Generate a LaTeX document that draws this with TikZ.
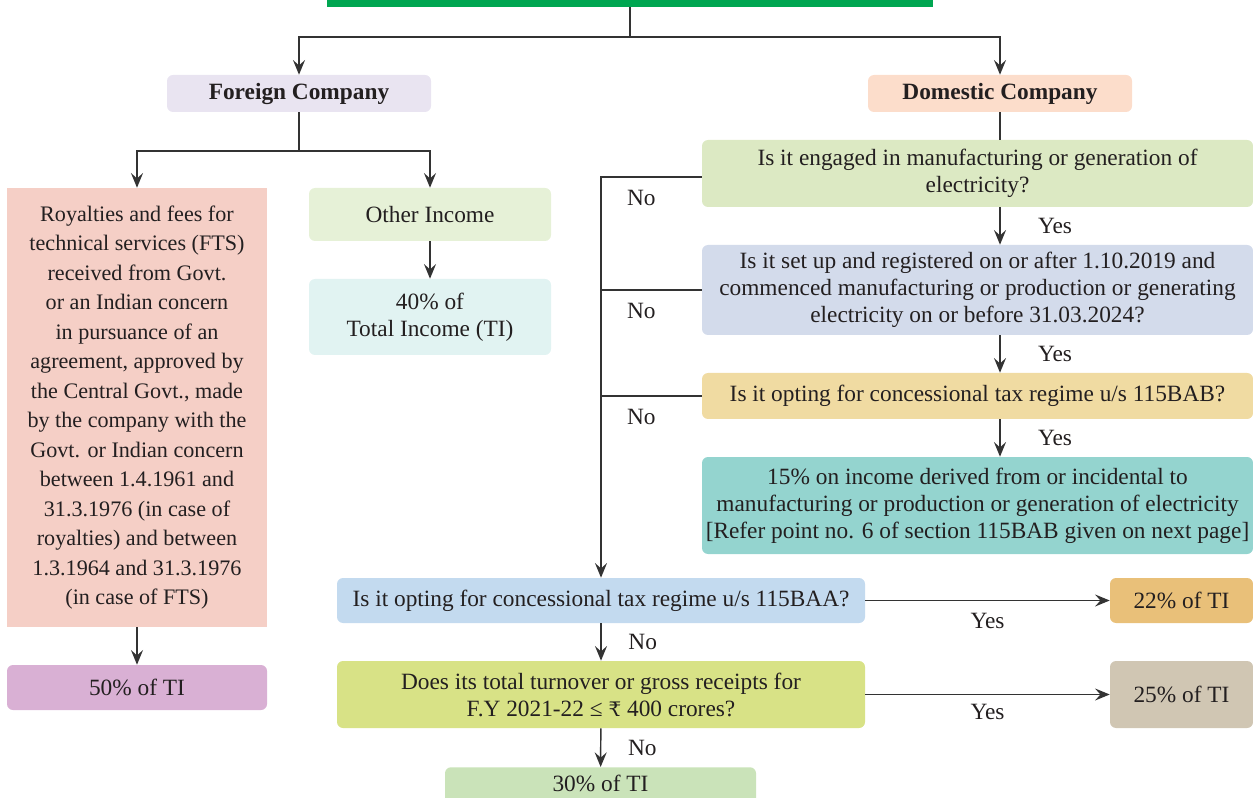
\documentclass[tikz,border=0pt]{standalone}
\usepackage{fontspec}
\setmainfont{Liberation Serif}
\newfontfamily\rupeefont{DejaVu Serif}
\usepackage{tikz}
\usetikzlibrary{positioning, calc, arrows.meta}
\definecolor{Title_green}{HTML}{00A651}
\definecolor{Foreign_lilac}{HTML}{E9E4F1}
\definecolor{Domestic_peach}{HTML}{FCDDCB}
\definecolor{Royalty_pink}{HTML}{F5CFC6}
\definecolor{Fifty_mauve}{HTML}{D9B0D4}
\definecolor{Other_green}{HTML}{E6F1D7}
\definecolor{Forty_cyan}{HTML}{E1F3F2}
\definecolor{Engaged_green}{HTML}{DCE9C3}
\definecolor{Setup_blue}{HTML}{D3DBEB}
\definecolor{BAB_sand}{HTML}{F0DBA2}
\definecolor{Fifteen_teal}{HTML}{94D4CF}
\definecolor{BAA_blue}{HTML}{C3DAEF}
\definecolor{TwentyTwo_orange}{HTML}{E9C079}
\definecolor{Turnover_lime}{HTML}{D8E286}
\definecolor{TwentyFive_taupe}{HTML}{D0C6B3}
\definecolor{Thirty_green}{HTML}{CAE3B9}
\definecolor{Ink_gray}{HTML}{231F20}
\definecolor{Line_gray}{HTML}{333333}
\tikzset{
  box/.style={rounded corners=4.5pt, inner sep=0pt, align=center, text=Ink_gray,
    font=\fontsize{17.5}{20.25}\selectfont},
  arr/.style={draw=Line_gray, line width=1.1pt, -{Stealth[length=11pt, width=9pt, inset=4pt]}},
  wire/.style={draw=Line_gray, line width=1.1pt},
  answer/.style={inner sep=0pt, text=Ink_gray, font=\fontsize{17.5}{20}\selectfont}
}

\begin{document}
\begin{tikzpicture}[x=0.75pt, y=-0.75pt]
    \useasboundingbox (0,0) rectangle (1253,798);
    % heads
    \node[fill=Title_green, inner sep=0pt, minimum width=454.5pt, minimum height=5.25pt] (title) at (630,3.5) {};
    \node[box, fill=Foreign_lilac, minimum width=198pt, minimum height=27.75pt, font=\fontsize{17.5}{20}\selectfont\bfseries] (foreign) at (299,93.5) {Foreign Company};
    \node[box, fill=Domestic_peach, minimum width=198pt, minimum height=27.75pt, font=\fontsize{17.5}{20}\selectfont\bfseries] (domestic) at (1000,93.5) {Domestic Company};
    \coordinate (split) at (630,37);
    \draw[wire] (title.south) -- (split);
    \draw[arr] (split) -| (foreign.north);
    \draw[arr] (split) -| (domestic.north);

    % foreign company
    \node[box, rounded corners=0pt, fill=Royalty_pink, minimum width=195pt, minimum height=329.25pt, font=\fontsize{16.6}{22.1}\selectfont] (royalties) at (137,407.5)
        {Royalties and fees for\\technical services (FTS)\\received from Govt.\\or an Indian concern\\in pursuance of an\\agreement, approved by\\the Central Govt., made\\by the company with the\\Govt. or Indian concern\\between 1.4.1961 and\\31.3.1976 (in case of\\royalties) and between\\1.3.1964 and 31.3.1976\\(in case of FTS)};
    \node[box, fill=Fifty_mauve, minimum width=195pt, minimum height=33.75pt] (fifty) at (137,687.5) {50\% of TI};
    \node[box, fill=Other_green, minimum width=181.5pt, minimum height=39.75pt] (other) at (430,214.5) {Other Income};
    \node[box, fill=Forty_cyan, minimum width=181.5pt, minimum height=57pt] (forty) at (430,317) {40\% of\\Total Income (TI)};
    \coordinate (fsplit) at (299,151);
    \draw[wire] (foreign.south) -- (fsplit);
    \draw[arr] (fsplit) -| (royalties.north);
    \draw[arr] (fsplit) -| (other.north);
    \draw[arr] (royalties) -- (fifty);
    \draw[arr] (other) -- (forty);

    % domestic company
    \node[box, fill=Engaged_green, minimum width=413.25pt, minimum height=50.25pt] (engaged) at (977.5,173.5)
        {Is it engaged in manufacturing or generation of\\electricity?};
    \node[box, fill=Setup_blue, minimum width=413.25pt, minimum height=67.5pt] (setup) at (977.5,290)
        {Is it set up and registered on or after 1.10.2019 and\\commenced manufacturing or production or generating\\electricity on or before 31.03.2024?};
    \node[box, fill=BAB_sand, minimum width=413.25pt, minimum height=34.5pt] (bab) at (977.5,396)
        {Is it opting for concessional tax regime u/s 115BAB?};
    \node[box, fill=Fifteen_teal, minimum width=413.25pt, minimum height=72.75pt] (fifteen) at (977.5,505.5)
        {15\% on income derived from or incidental to\\manufacturing or production or generation of electricity\\{[}Refer point no. 6 of section 115BAB given on next page{]}};
    \node[box, fill=BAA_blue, minimum width=396pt, minimum height=33.75pt] (baa) at (601,600.5)
        {Is it opting for concessional tax regime u/s 115BAA?};
    \node[box, fill=TwentyTwo_orange, minimum width=107.25pt, minimum height=33.75pt] (twentytwo) at (1181.5,600.5) {22\% of TI};
    \node[box, fill=Turnover_lime, minimum width=396pt, minimum height=50.25pt] (turnover) at (601,694.5)
        {Does its total turnover or gross receipts for\\F.Y 2021-22 ≤ {\rupeefont\fontsize{15}{20}\selectfont ₹} 400 crores?};
    \node[box, fill=TwentyFive_taupe, minimum width=107.25pt, minimum height=50.25pt] (twentyfive) at (1181.5,694.5) {25\% of TI};
    \node[box, fill=Thirty_green, minimum width=233.25pt, anchor=north, text height=18pt, text depth=16pt] (thirty) at (600.5,767) {30\% of TI};

    \draw[wire] (domestic.south) -- (domestic.south |- engaged.north);
    \draw[arr] (engaged.south -| domestic) -- node[answer, right=28pt] {Yes} (setup.north -| domestic);
    \draw[arr] (setup.south -| domestic) -- node[answer, right=28pt] {Yes} (bab.north -| domestic);
    \draw[arr] (bab.south -| domestic) -- node[answer, right=28pt] {Yes} (fifteen.north -| domestic);
    \draw[arr] ($(engaged.west)+(0,3.5)$) -- node[answer, pos=0.6, below=9pt] {No} ($(engaged.west -| baa.north)+(0,3.5)$) -- (baa.north);
    \draw[wire] (setup.west) -- node[answer, pos=0.6, below=9pt] {No} (setup.west -| baa.north);
    \draw[wire] (bab.west) -- node[answer, pos=0.6, below=9pt] {No} (bab.west -| baa.north);
    \draw[arr] (baa) -- node[answer, below=9pt] {Yes} (twentytwo);
    \draw[arr] (turnover) -- node[answer, below=7pt] {Yes} (twentyfive);
    \draw[arr] (baa) -- node[answer, right=20pt] {No} (turnover);
    \draw[arr] (turnover) -- node[answer, right=20pt] {No} (thirty);
\end{tikzpicture}
\end{document}
